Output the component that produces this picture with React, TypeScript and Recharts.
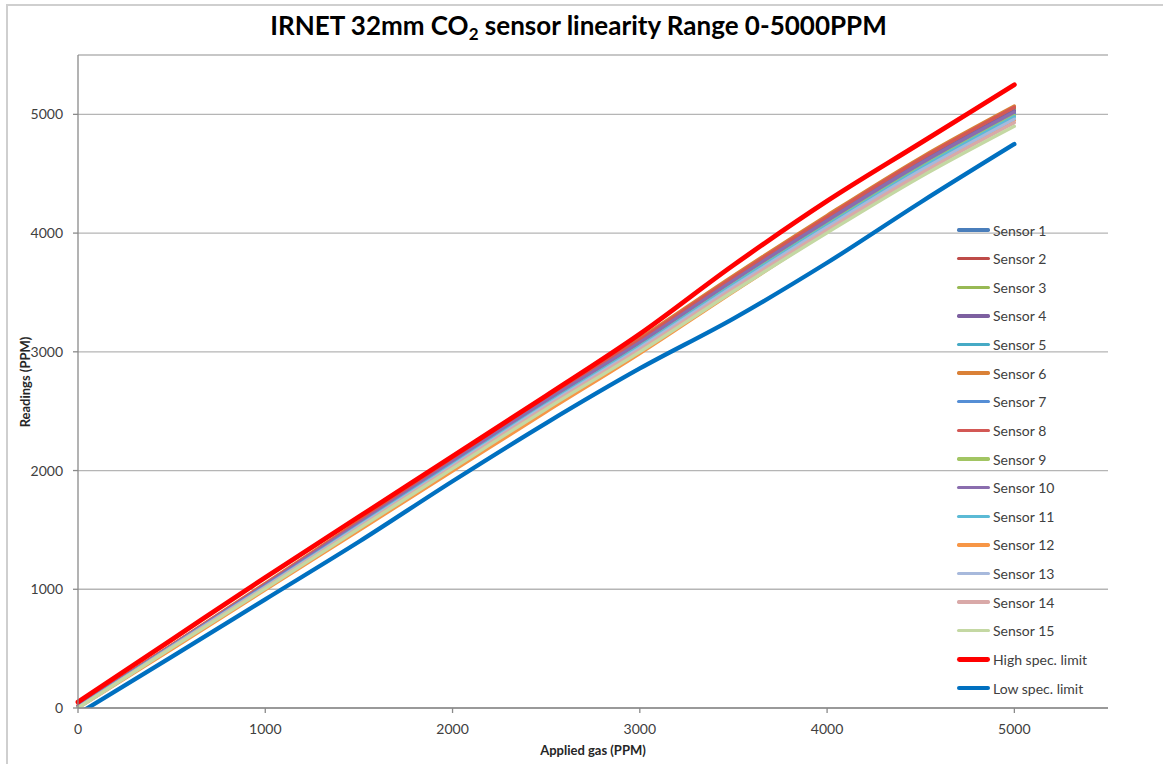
import React from 'react';
import { LineChart, Line, XAxis, YAxis, CartesianGrid } from 'recharts';

// Applied gas concentrations (PPM)
const appliedGas = [0, 500, 1000, 1500, 2000, 2500, 3000, 3500, 4000, 4500, 5000];

// Sensor readings (PPM)
const sensor1 = [10, 523, 1036, 1554, 2072, 2585, 3078, 3601, 4104, 4587, 5020];
const sensor2 = [15, 526, 1042, 1564, 2085, 2601, 3097, 3623, 4129, 4615, 5050];
const sensor3 = [12, 525, 1040, 1560, 2080, 2596, 3090, 3616, 4121, 4606, 5040];
const sensor4 = [10, 524, 1038, 1557, 2076, 2590, 3084, 3609, 4113, 4596, 5030];
const sensor5 = [8, 521, 1032, 1548, 2064, 2575, 3066, 3587, 4088, 4569, 5000];
const sensor6 = [20, 530, 1050, 1575, 2098, 2616, 3114, 3642, 4150, 4636, 5070];
const sensor7 = [10, 522, 1034, 1551, 2068, 2580, 3072, 3594, 4096, 4578, 5010];
const sensor8 = [18, 527, 1044, 1567, 2089, 2606, 3103, 3630, 4137, 4624, 5060];
const sensor9 = [5, 518, 1026, 1540, 2054, 2563, 3052, 3572, 4072, 4553, 4990];
const sensor10 = [12, 524, 1037, 1555, 2073, 2586, 3079, 3602, 4105, 4588, 5020];
const sensor11 = [5, 516, 1023, 1536, 2049, 2558, 3046, 3566, 4064, 4545, 4980];
const sensor12 = [0, 495, 995, 1495, 1995, 2495, 2985, 3505, 4015, 4500, 4950];
const sensor13 = [3, 513, 1018, 1529, 2040, 2548, 3034, 3551, 4049, 4527, 4960];
const sensor14 = [2, 510, 1012, 1520, 2029, 2535, 3018, 3532, 4027, 4502, 4930];
const sensor15 = [0, 506, 1005, 1510, 2016, 2518, 2999, 3510, 4002, 4474, 4900];

// Specification limits (PPM)
const highSpec = [50, 575, 1100, 1610, 2120, 2630, 3150, 3730, 4270, 4760, 5250];
const lowSpec = [-50, 430, 915, 1400, 1910, 2400, 2860, 3280, 3750, 4260, 4750];

const xTicks = [0, 1000, 2000, 3000, 4000, 5000];
const yTicks = [0, 1000, 2000, 3000, 4000, 5000];

const seriesDefs = [
  { key: 's1', name: 'Sensor 1', values: sensor1, color: '#4A7EBB', width: 3.3 },
  { key: 's2', name: 'Sensor 2', values: sensor2, color: '#BE4B48', width: 3.3 },
  { key: 's3', name: 'Sensor 3', values: sensor3, color: '#98B954', width: 3.3 },
  { key: 's4', name: 'Sensor 4', values: sensor4, color: '#7D60A0', width: 3.3 },
  { key: 's5', name: 'Sensor 5', values: sensor5, color: '#46AAC5', width: 3.3 },
  { key: 's6', name: 'Sensor 6', values: sensor6, color: '#DA8137', width: 3.3 },
  { key: 's7', name: 'Sensor 7', values: sensor7, color: '#558ED5', width: 3.3 },
  { key: 's8', name: 'Sensor 8', values: sensor8, color: '#D35855', width: 3.3 },
  { key: 's9', name: 'Sensor 9', values: sensor9, color: '#A2C563', width: 3.3 },
  { key: 's10', name: 'Sensor 10', values: sensor10, color: '#8A6DAE', width: 3.3 },
  { key: 's11', name: 'Sensor 11', values: sensor11, color: '#5BBAD5', width: 3.3 },
  { key: 's12', name: 'Sensor 12', values: sensor12, color: '#F79646', width: 3.3 },
  { key: 's13', name: 'Sensor 13', values: sensor13, color: '#A7B9DC', width: 3.3 },
  { key: 's14', name: 'Sensor 14', values: sensor14, color: '#D9A9A8', width: 3.3 },
  { key: 's15', name: 'Sensor 15', values: sensor15, color: '#C4D8A3', width: 3.3 },
  { key: 'high', name: 'High spec. limit', values: highSpec, color: '#FF0000', width: 4.8 },
  { key: 'low', name: 'Low spec. limit', values: lowSpec, color: '#0070C0', width: 4.3 },
];

const data = appliedGas.map((x, i) => {
  const row: Record<string, number> = { x };
  seriesDefs.forEach((s) => {
    row[s.key] = s.values[i];
  });
  return row;
});

const FONT = 'Lato, "Open Sans", sans-serif';
const tickStyle = { fill: '#404040', fontSize: 14, fontFamily: FONT };

export default function App() {
  return (
    <div
      style={{
        position: 'absolute',
        left: 0,
        top: 0,
        width: 1163,
        height: 764,
        background: '#ffffff',
        overflow: 'hidden',
        fontFamily: FONT,
      }}
    >
      <div
        style={{
          position: 'absolute',
          left: 6,
          top: 4,
          width: 1300,
          height: 900,
          border: '2px solid #CFCFCF',
          boxSizing: 'border-box',
        }}
      />
      <div
        style={{
          position: 'absolute',
          left: 0,
          top: 10,
          width: 1157,
          textAlign: 'center',
          fontSize: 26,
          fontWeight: 700,
          lineHeight: 1.2,
          color: '#000000',
          whiteSpace: 'nowrap',
        }}
      >
        IRNET 32mm CO
        <sub style={{ fontSize: 17, lineHeight: 0, verticalAlign: '-5px' }}>2</sub> sensor linearity Range
        0-5000PPM
      </div>
      <div style={{ position: 'absolute', left: 0, top: 0 }}>
        <LineChart width={1163} height={764} data={data} margin={{ top: 55, right: 55, bottom: 0, left: 0 }}>
          <CartesianGrid vertical={false} stroke="#B5B5B5" strokeWidth={1.3} />
          <XAxis
            dataKey="x"
            type="number"
            domain={[0, 5500]}
            ticks={xTicks}
            height={56}
            tickSize={5}
            tickMargin={11}
            tick={tickStyle}
            axisLine={{ stroke: '#8A8A8A', strokeWidth: 1.3 }}
            tickLine={{ stroke: '#8A8A8A', strokeWidth: 1.3 }}
            interval={0}
          />
          <YAxis
            type="number"
            domain={[0, 5500]}
            ticks={yTicks}
            width={78}
            tickSize={5}
            tickMargin={10}
            tick={tickStyle}
            allowDataOverflow
            axisLine={{ stroke: '#8A8A8A', strokeWidth: 1.3 }}
            tickLine={{ stroke: '#8A8A8A', strokeWidth: 1.3 }}
            interval={0}
          />
          {seriesDefs.map((s) => (
            <Line
              key={s.key}
              dataKey={s.key}
              name={s.name}
              type="monotone"
              stroke={s.color}
              strokeWidth={s.width}
              strokeLinecap="round"
              dot={false}
              activeDot={false}
              isAnimationActive={false}
            />
          ))}
        </LineChart>
      </div>
      <div
        style={{
          position: 'absolute',
          left: 593,
          top: 750,
          transform: 'translate(-50%, -50%)',
          fontSize: 13,
          fontWeight: 700,
          color: '#262626',
          whiteSpace: 'nowrap',
        }}
      >
        Applied gas (PPM)
      </div>
      <div
        style={{
          position: 'absolute',
          left: 25,
          top: 382,
          transform: 'translate(-50%, -50%) rotate(-90deg)',
          fontSize: 13,
          fontWeight: 700,
          color: '#262626',
          whiteSpace: 'nowrap',
        }}
      >
        Readings (PPM)
      </div>
      {seriesDefs.map((s, i) => (
        <div
          key={s.key}
          style={{
            position: 'absolute',
            left: 957,
            top: 230 + i * 28.625 - 10,
            height: 20,
            display: 'flex',
            alignItems: 'center',
            whiteSpace: 'nowrap',
          }}
        >
          <div
            style={{
              width: 33,
              height: s.width,
              background: s.color,
              borderRadius: s.width / 2,
              marginRight: 3,
            }}
          />
          <span style={{ fontSize: 14, color: '#404040' }}>{s.name}</span>
        </div>
      ))}
    </div>
  );
}
